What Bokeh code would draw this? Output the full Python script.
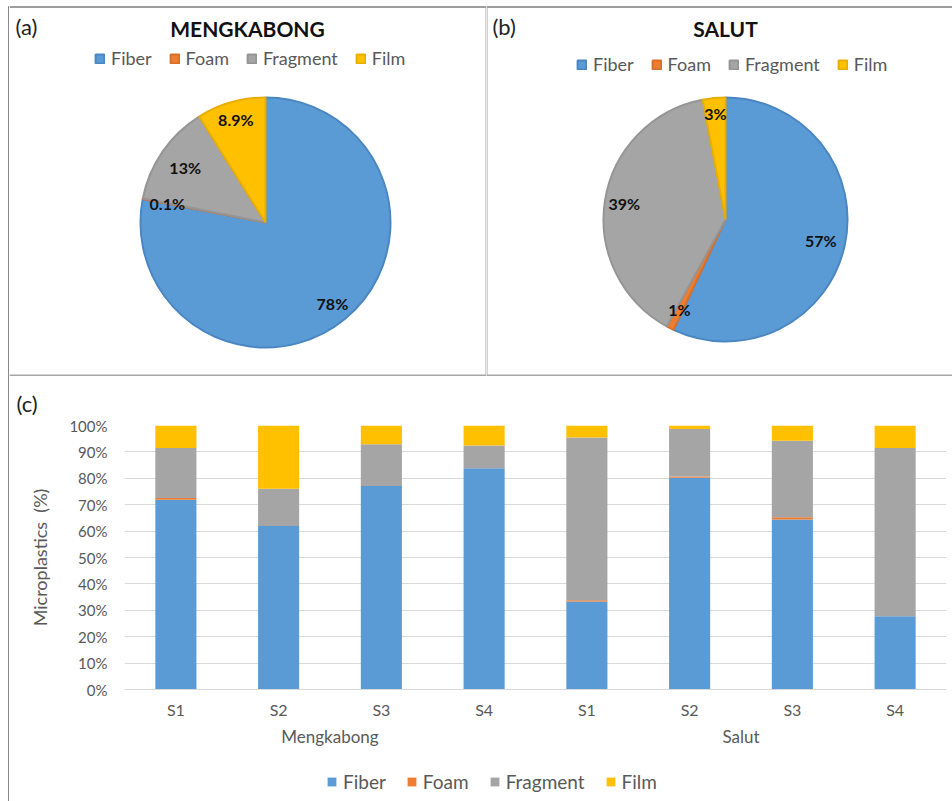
import numpy as np
from bokeh.plotting import figure
from bokeh.models import (ColumnDataSource, Legend, LegendItem, Label,
                          FixedTicker, Range1d, LinearAxis)
from bokeh.layouts import row, column
from bokeh.embed import file_html
from bokeh.resources import INLINE
from bokeh.core.properties import value

# ---- data -------------------------------------------------------------
types = ["Fiber", "Foam", "Fragment", "Film"]

# overall share of each microplastic type (%)
mengkabong_share = [78, 0.1, 13, 8.9]
salut_share = [57, 1, 39, 3]

# per-station composition (%)
sites = ["Mengkabong", "Salut"]
stations = ["S1", "S2", "S3", "S4"]
fiber = [71.9, 61.9, 77.1, 83.8, 33.3, 80.2, 64.4, 27.7]
foam = [0.6, 0.0, 0.0, 0.0, 0.5, 0.5, 0.8, 0.0]
fragment = [19.0, 14.1, 15.8, 8.6, 61.7, 18.0, 29.0, 63.8]
film = [8.5, 24.0, 7.1, 7.6, 4.5, 1.3, 5.8, 8.5]

pct_ticks = [0, 10, 20, 30, 40, 50, 60, 70, 80, 90, 100]

# ---- styling ------------------------------------------------------------
colors = ["#5B9BD5", "#ED7D31", "#A5A5A5", "#FFC000"]
edge_colors = ["#4A86C2", "#D8702A", "#959595", "#E8AE00"]
FONT = "Lato"
TXT = "#595959"
BORDER = "#3F3F3F"
DIVIDER = "#A6A6A6"
TOP_H = 376


def blank(p):
    p.axis.visible = False
    p.grid.visible = False
    p.outline_line_color = None
    p.background_fill_color = "white"
    p.border_fill_color = "white"


def legend_for(items, loc, size="18px", spacing=17):
    return Legend(items=items, orientation="horizontal", location=loc,
                  glyph_width=11, glyph_height=11, label_standoff=6,
                  spacing=spacing, padding=0, margin=0,
                  border_line_color=None, background_fill_alpha=0,
                  label_text_font=FONT, label_text_font_size=size,
                  label_text_color=TXT, label_height=20)


def pie_panel(share, title, letter, x0, width, cx, cy, r, label_frac,
              legend_xy, letter_x, title_x):
    H = TOP_H
    p = figure(width=width, height=H, x_range=Range1d(x0, x0 + width),
               y_range=Range1d(0, H), output_backend="svg",
               toolbar_location=None, min_border=0, tools="")
    blank(p)
    share = np.asarray(share, dtype=float)
    frac = share / share.sum()
    cum = np.concatenate([[0.0], np.cumsum(frac)])
    # slices run clockwise from 12 o'clock
    start = np.pi / 2 - 2 * np.pi * cum[:-1]
    end = np.pi / 2 - 2 * np.pi * cum[1:]
    src = ColumnDataSource(dict(start=start, end=end, color=colors,
                                edge=edge_colors, kind=types))
    w = p.wedge(x=cx, y=H - cy, radius=r, start_angle="start",
                end_angle="end", direction="clock", fill_color="color",
                line_color="edge", line_width=2, source=src)

    mid = (start + end) / 2
    lab = ColumnDataSource(dict(
        x=cx + np.asarray(label_frac) * r * np.cos(mid),
        y=(H - cy) + np.asarray(label_frac) * r * np.sin(mid),
        text=[f"{v:g}%" for v in share]))
    p.text(x="x", y="y", text="text", source=lab, text_align="center",
           text_baseline="middle", text_font=value(FONT),
           text_font_style="bold", text_font_size="16px",
           text_color="#111111")

    p.add_layout(Label(x=title_x, y=H - 28, text=title, text_align="center",
                       text_baseline="middle", text_font=FONT,
                       text_font_style="bold", text_font_size="21px",
                       text_color="#111111"))
    p.add_layout(Label(x=letter_x, y=H - 26, text=letter, text_align="left",
                       text_baseline="middle", text_font=FONT,
                       text_font_size="22px", text_color="#222222"))

    p.add_layout(legend_for([LegendItem(label=t, renderers=[w], index=i)
                             for i, t in enumerate(types)], legend_xy))

    # panel frame lines
    p.segment(x0=[x0], y0=[H - 6.5], x1=[x0 + width], y1=[H - 6.5],
              line_color=BORDER, line_width=1.2)
    p.segment(x0=[x0], y0=[1], x1=[x0 + width], y1=[1],
              line_color=DIVIDER, line_width=2)
    return p


pa = pie_panel(mengkabong_share, "MENGKABONG", "(a)", 9, 477, 265, 222, 125,
               [0.84, 0.80, 0.78, 0.86], (85, 307), 15, 247)
pa.segment(x0=[485.5], y0=[0], x1=[485.5], y1=[TOP_H - 6.5],
           line_color=DIVIDER, line_width=1)
pb = pie_panel(salut_share, "SALUT", "(b)", 486, 466, 725, 219, 122,
               [0.80, 0.83, 0.84, 0.87], (90, 301), 492, 725)
pb.segment(x0=[486.5], y0=[0], x1=[486.5], y1=[TOP_H - 6.5],
           line_color=DIVIDER, line_width=1)

# ---- stacked bars -------------------------------------------------------
labels_st = [st for s in sites for st in stations]
xs = [i + 0.5 for i in range(len(labels_st))]
site_x = [float(np.mean(xs[k * len(stations):(k + 1) * len(stations)]))
          for k in range(len(sites))]
bsrc = ColumnDataSource(dict(x=xs, Fiber=fiber, Foam=foam,
                             Fragment=fragment, Film=film))

pc = figure(width=943, height=377, x_range=Range1d(0, len(xs)),
            y_range=Range1d(0, 100), output_backend="svg",
            toolbar_location=None, tools="", min_border_left=115,
            min_border_right=6, min_border_top=49, min_border_bottom=64)
pc.outline_line_color = None
pc.vbar_stack(types, x="x", width=0.4, color=colors, line_color=None,
              source=bsrc)

pc.xgrid.grid_line_color = None
pc.ygrid.grid_line_color = "#D9D9D9"
pc.ygrid.grid_line_width = 1

pc.title.text = "(c)"
pc.title.align = "left"
pc.title.offset = -108
pc.title.standoff = 18
pc.title.text_font = FONT
pc.title.text_font_style = "normal"
pc.title.text_font_size = "22px"
pc.title.text_color = "#222222"

ya = pc.yaxis[0]
ya.ticker = FixedTicker(ticks=pct_ticks)
ya.major_label_overrides = {t: f"{t}%" for t in pct_ticks}
ya.axis_line_color = None
ya.major_tick_line_color = None
ya.minor_tick_line_color = None
ya.major_tick_out = 0
ya.major_tick_in = 0
ya.major_label_standoff = 17
ya.major_label_text_font = FONT
ya.major_label_text_font_size = "15px"
ya.major_label_text_color = TXT
ya.axis_label = "Microplastics\u00a0 (%)"
ya.axis_label_text_font = FONT
ya.axis_label_text_font_style = "normal"
ya.axis_label_text_font_size = "18px"
ya.axis_label_text_color = TXT
ya.axis_label_standoff = 15

xa = pc.xaxis[0]
xa.ticker = FixedTicker(ticks=xs)
xa.major_label_overrides = {x: s for x, s in zip(xs, labels_st)}
xa.axis_line_color = "#D9D9D9"
xa.major_tick_line_color = None
xa.minor_tick_line_color = None
xa.major_tick_out = 0
xa.major_tick_in = 0
xa.major_label_standoff = 10
xa.major_label_text_font = FONT
xa.major_label_text_font_size = "16px"
xa.major_label_text_color = TXT

# second row of category labels: the two estuaries
site_axis = LinearAxis(ticker=FixedTicker(ticks=site_x),
                       major_label_overrides={x: s for x, s in zip(site_x, sites)},
                       axis_line_color=None, major_tick_line_color=None,
                       minor_tick_line_color=None, major_tick_out=0,
                       major_tick_in=0, major_label_standoff=4,
                       major_label_text_font=FONT,
                       major_label_text_font_size="17px",
                       major_label_text_color=TXT)
pc.add_layout(site_axis, "below")

# key strip under the bar chart; its bars sit outside the visible y range,
# so only the legend entries show (its frame lines up with the chart's frame)
pk = figure(width=943, height=48, x_range=Range1d(0, len(xs)),
            y_range=Range1d(200, 300), output_backend="svg",
            toolbar_location=None, min_border=0, tools="")
blank(pk)
key_bars = pk.vbar_stack(types, x="x", width=0.4, color=colors,
                         line_color=None, source=bsrc)
pk.add_layout(legend_for([LegendItem(label=t, renderers=[r])
                          for t, r in zip(types, key_bars)], (202, 8),
                         size="19px", spacing=20))

# left frame strip
strip = figure(width=9, height=801, x_range=Range1d(0, 9),
               y_range=Range1d(0, 801), output_backend="svg",
               toolbar_location=None, min_border=0, tools="")
blank(strip)
strip.segment(x0=[8.5, 8], y0=[0, 794.5], x1=[8.5, 9], y1=[795, 794.5],
              line_color=BORDER, line_width=1.2)

layout = row(strip, column(row(pa, pb), pc, pk))
open("out.html", "w").write(file_html(layout, INLINE))
